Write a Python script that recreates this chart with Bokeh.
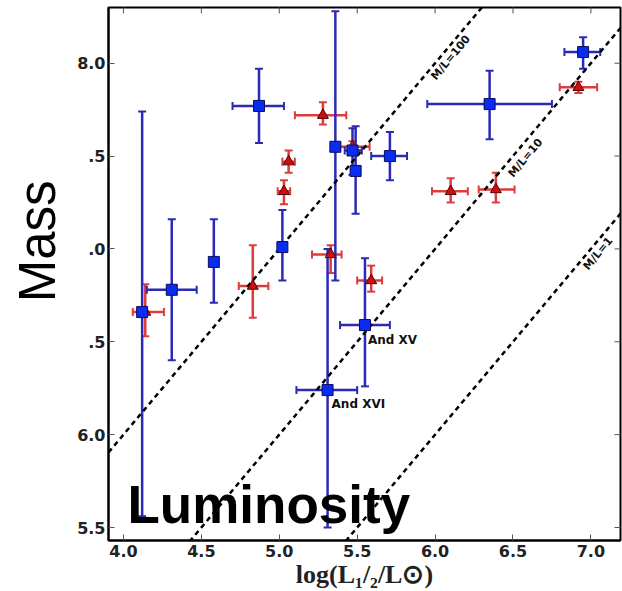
import numpy as np
from bokeh.plotting import figure
from bokeh.models import (ColumnDataSource, Whisker, TeeHead, Label, Title,
                          FixedTicker, Range1d)
from bokeh.core.properties import value
from bokeh.embed import file_html
from bokeh.resources import INLINE

# ---- data: blue squares ----
blue_x    = [4.12, 4.31, 4.58, 4.87, 5.02, 5.36, 5.47, 5.49, 5.71, 6.35, 6.95, 5.55, 5.31]
blue_y    = [6.66, 6.78, 6.93, 7.77, 7.01, 7.55, 7.53, 7.42, 7.50, 7.78, 8.06, 6.59, 6.24]
blue_xlo  = [4.10, 4.15, 4.56, 4.70, 5.00, 5.34, 5.42, 5.47, 5.59, 5.95, 6.83, 5.39, 5.11]
blue_xhi  = [4.14, 4.47, 4.60, 5.03, 5.04, 5.38, 5.53, 5.51, 5.82, 6.75, 7.06, 5.71, 5.50]
blue_ylo  = [5.56, 6.40, 6.71, 7.57, 6.83, 6.83, 7.40, 7.19, 7.37, 7.59, 7.97, 6.26, 5.50]
blue_yhi  = [7.74, 7.16, 7.16, 7.97, 7.21, 8.28, 7.65, 7.66, 7.63, 7.96, 8.14, 6.95, 7.00]

# ---- data: red triangles ----
red_x   = [4.14, 4.83, 5.03, 5.06, 5.28, 5.33, 5.59, 5.47, 6.10, 6.39, 6.92]
red_y   = [6.66, 6.80, 7.31, 7.47, 7.72, 6.97, 6.83, 7.55, 7.31, 7.32, 7.87]
red_xlo = [4.06, 4.74, 4.99, 5.02, 5.10, 5.21, 5.50, 5.39, 5.98, 6.28, 6.80]
red_xhi = [4.26, 4.93, 5.07, 5.10, 5.43, 5.40, 5.66, 5.58, 6.21, 6.51, 7.04]
red_ylo = [6.53, 6.63, 7.24, 7.41, 7.67, 6.87, 6.77, 7.52, 7.25, 7.25, 7.84]
red_yhi = [6.81, 7.02, 7.37, 7.53, 7.79, 7.02, 6.91, 7.58, 7.38, 7.41, 7.90]

# ---- annotated galaxies (index into blue arrays) ----
ann_names = ["And XV", "And XVI"]
ann_index = [11, 12]

# ---- constant mass-to-light ratio lines ----
ml_ratios = [100, 10, 1]
ml_label_x = [6.10, 6.58, 7.045]
ml_label_y = [8.03, 7.49, 6.975]

x_ticks = [4.0, 4.5, 5.0, 5.5, 6.0, 6.5, 7.0]
x_tick_labels = ["4.0", "4.5", "5.0", "5.5", "6.0", "6.5", "7.0"]
y_ticks = [5.5, 6.0, 6.5, 7.0, 7.5, 8.0]
# the pasted "Mass" word hides the leading digit of three labels
y_tick_labels = ["5.5", "6.0", ".5", ".0", ".5", "8.0"]
x_lim = (3.904, 7.19)
y_lim = (5.43, 8.30)

BLUE_BAR = "#2a2ab4"
BLUE_FILL = "#0a2cf0"
BLUE_EDGE = "#0a0a60"
RED_BAR = "#dc3c3c"
RED_FILL = "#c81010"
RED_EDGE = "#5a0000"
TICK_COLOR = "#555555"

p = figure(width=622, height=591, output_backend="svg", toolbar_location=None,
           x_range=Range1d(*x_lim), y_range=Range1d(*y_lim),
           min_border_left=108, min_border_right=2, min_border_top=7,
           min_border_bottom=46)
p.grid.visible = False
p.outline_line_color = "black"
p.outline_line_width = 2
p.background_fill_color = "white"
p.border_fill_color = "white"

for ax, ticks, labels in ((p.xaxis[0], x_ticks, x_tick_labels),
                          (p.yaxis[0], y_ticks, y_tick_labels)):
    ax.ticker = FixedTicker(ticks=ticks)
    ax.major_label_overrides = {t: s for t, s in zip(ticks, labels)}
    ax.axis_line_width = 2
    ax.axis_line_color = "black"
    ax.major_tick_in = 6
    ax.major_tick_out = 0
    ax.minor_tick_line_color = None
    ax.major_tick_line_color = TICK_COLOR
    ax.major_label_text_font = "DejaVu Sans"
    ax.major_label_text_font_style = "bold"
    ax.major_label_text_font_size = "16px"
    ax.major_label_text_color = "#222222"

p.yaxis[0].major_label_standoff = 3
p.xaxis[0].major_label_standoff = 4
p.xaxis[0].axis_label = "log(L\u2081/\u2082/L\u2299)"
p.xaxis[0].axis_label_text_font = "Liberation Serif"
p.xaxis[0].axis_label_text_font_style = "bold"
p.xaxis[0].axis_label_text_font_size = "26px"
p.xaxis[0].axis_label_text_color = "#222222"
p.xaxis[0].axis_label_standoff = 0

# inward ticks along the top and right edges (half of each dash is clipped)
p.scatter(x=x_ticks, y=[y_lim[1]] * len(x_ticks), marker="dash", angle=np.pi / 2,
          size=12, line_color=TICK_COLOR, line_width=1)
p.scatter(x=[x_lim[1]] * len(y_ticks), y=y_ticks, marker="dash",
          size=12, line_color=TICK_COLOR, line_width=1)

# M/L lines
xs_line = list(x_lim)
for ml in ml_ratios:
    off = np.log10(ml)
    p.line(xs_line, [v + off for v in xs_line], line_color="black",
           line_width=2.5, line_dash="5 4")
p.text(x=ml_label_x, y=ml_label_y, text=[f"M/L={m}" for m in ml_ratios],
       angle=0.875, text_align="center", text_baseline="middle",
       text_font=value("DejaVu Sans"), text_font_style="bold",
       text_font_size="11px", text_color="#111111")

red_src = ColumnDataSource(dict(x=red_x, y=red_y, xlo=red_xlo, xhi=red_xhi,
                                ylo=red_ylo, yhi=red_yhi))
blue_src = ColumnDataSource(dict(x=blue_x, y=blue_y, xlo=blue_xlo, xhi=blue_xhi,
                                 ylo=blue_ylo, yhi=blue_yhi))

def add_errbars(src, color):
    for base, lo, hi, dim in (("x", "ylo", "yhi", "height"), ("y", "xlo", "xhi", "width")):
        w = Whisker(source=src, base=base, lower=lo, upper=hi, dimension=dim,
                    line_color=color, line_width=2.5, level="underlay",
                    upper_head=TeeHead(size=8, line_color=color, line_width=2),
                    lower_head=TeeHead(size=8, line_color=color, line_width=2))
        p.add_layout(w)

add_errbars(red_src, RED_BAR)
add_errbars(blue_src, BLUE_BAR)

p.scatter("x", "y", source=red_src, marker="triangle", size=11,
          fill_color=RED_FILL, line_color=RED_EDGE, line_width=1)
p.scatter("x", "y", source=blue_src, marker="square", size=11,
          fill_color=BLUE_FILL, line_color=BLUE_EDGE, line_width=1)

p.text(x=[blue_x[i] for i in ann_index], y=[blue_y[i] for i in ann_index],
       text=ann_names, x_offset=[3, 4], y_offset=[15, 14],
       text_align="left", text_baseline="alphabetic",
       text_font=value("DejaVu Sans"), text_font_style="bold",
       text_font_size="12px", text_color="#111111")

# big overlay words
p.add_layout(Title(text="Mass", align="right", offset=173, standoff=14,
                   vertical_align="top",
                   text_font="Liberation Sans", text_font_style="normal",
                   text_font_size="51px", text_color="black"), "left")
p.add_layout(Label(x=19, y=36, x_units="screen", y_units="screen", text="Luminosity",
                   text_align="left", text_baseline="alphabetic",
                   text_font="Liberation Sans", text_font_style="bold",
                   text_font_size="53px", text_color="black"))

open("out.html", "w").write(file_html(p, INLINE))
